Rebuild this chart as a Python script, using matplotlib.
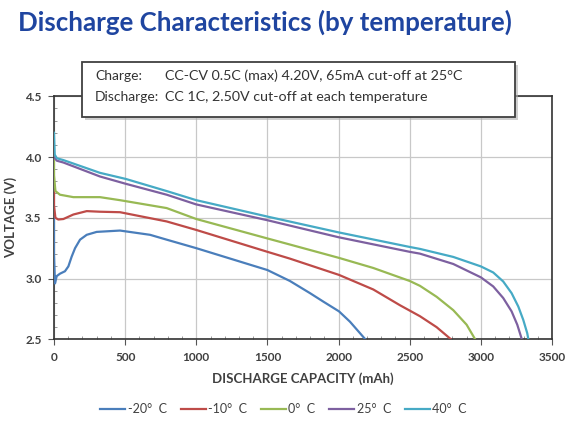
import matplotlib

matplotlib.use("Agg")
import matplotlib.pyplot as plt
from matplotlib.patches import Rectangle
from matplotlib.ticker import MultipleLocator

plt.rcParams["font.family"] = ["Lato", "DejaVu Sans"]

# discharge curves, capacity (mAh) vs voltage (V)
cap_m20 = [0, 0, 7, 19, 42, 77, 101, 124, 148, 183, 230, 300, 464, 675, 792, 1000, 1250, 1500,
           1658, 1799, 1893, 2003, 2080, 2188]
v_m20 = [3.51, 3.20, 2.96, 3.02, 3.04, 3.06, 3.10, 3.18, 3.25, 3.32, 3.36, 3.384, 3.395, 3.36, 3.32,
         3.25, 3.16, 3.07, 2.98, 2.88, 2.81, 2.73, 2.645, 2.50]

cap_m10 = [0, 0, 10, 30, 66, 136, 230, 323, 464, 792, 1000, 1500, 1658, 2003, 2244, 2432, 2572,
           2689, 2790]
v_m10 = [3.72, 3.60, 3.50, 3.486, 3.49, 3.527, 3.555, 3.55, 3.546, 3.47, 3.40, 3.22, 3.164, 3.03,
         2.91, 2.78, 2.69, 2.60, 2.50]

cap_0 = [0, 0, 10, 42, 136, 323, 464, 792, 1000, 1500, 1658, 2003, 2244, 2500, 2572, 2689, 2806,
         2900, 2960]
v_0 = [4.01, 3.85, 3.72, 3.69, 3.67, 3.67, 3.645, 3.58, 3.49, 3.33, 3.28, 3.17, 3.087, 2.98, 2.94,
       2.85, 2.74, 2.62, 2.50]

cap_25 = [0, 20, 66, 323, 504, 792, 1000, 1500, 2000, 2500, 2572, 2806, 3000, 3087, 3157, 3216,
          3256, 3288]
v_25 = [4.00, 3.97, 3.955, 3.84, 3.78, 3.69, 3.61, 3.48, 3.34, 3.22, 3.205, 3.12, 3.01, 2.935, 2.84,
        2.73, 2.62, 2.50]

cap_40 = [0, 5, 20, 66, 323, 504, 792, 1000, 1500, 2000, 2500, 2572, 2806, 3000, 3087, 3157, 3216,
          3263, 3298, 3326, 3334]
v_40 = [4.20, 4.02, 3.99, 3.975, 3.87, 3.82, 3.72, 3.645, 3.51, 3.38, 3.26, 3.244, 3.178, 3.10,
        3.05, 2.976, 2.88, 2.77, 2.66, 2.55, 2.50]

series = [
    ("-20°  C", cap_m20, v_m20, "#4A7EBB"),
    ("-10°  C", cap_m10, v_m10, "#BE4B48"),
    ("0°  C", cap_0, v_0, "#98B954"),
    ("25°  C", cap_25, v_25, "#7D60A0"),
    ("40°  C", cap_40, v_40, "#46AAC5"),
]

x_ticks = [0, 500, 1000, 1500, 2000, 2500, 3000, 3500]
y_ticks = [2.5, 3.0, 3.5, 4.0, 4.5]

W, H = 581, 421
fig = plt.figure(figsize=(W / 100, H / 100), dpi=100)
ax = fig.add_axes([54 / W, 1 - 339.3 / H, (552 - 54) / W, (339.3 - 96.3) / H])

for label, xs, ys, color in series:
    ax.plot(xs, ys, color=color, lw=1.6, label=label, solid_joinstyle="round", zorder=3)

ax.set_xlim(0, 3500)
ax.set_ylim(2.5, 4.5)
ax.set_xticks(x_ticks)
ax.set_yticks(y_ticks)
ax.set_yticklabels([f"{v:.1f}" for v in y_ticks])
ax.xaxis.set_minor_locator(MultipleLocator(100))
ax.yaxis.set_minor_locator(MultipleLocator(0.1))
ax.grid(True, which="major", color="#c8c8c8", lw=0.9, zorder=0)
ax.tick_params(which="major", direction="out", length=4, width=0.8, color="#555555",
               labelsize=8.5, labelcolor="#404040", pad=5)
ax.tick_params(which="minor", direction="in", length=2.5, width=0.6, color="#888888")
for lbl in ax.get_xticklabels() + ax.get_yticklabels():
    lbl.set_fontweight("bold")
for sp in ax.spines.values():
    sp.set_color("#333333")
    sp.set_linewidth(1.2)

ax.set_xlabel("DISCHARGE CAPACITY (mAh)", fontsize=9.5, fontweight="bold", color="#404040", labelpad=7)
ax.set_ylabel("VOLTAGE (V)", fontsize=9.5, fontweight="bold", color="#404040", labelpad=6)

fig.text(18 / W, 1 - 22 / H, "Discharge Characteristics (by temperature)", fontsize=18.6,
         fontweight="bold", color="#1F45A0", va="center", ha="left")

# condition box with drop shadow
bx0, by0, bx1, by1 = 82, 62, 515, 117
fig.patches.append(Rectangle((bx0 / W + 0.005, 1 - by1 / H - 0.008), (bx1 - bx0) / W, (by1 - by0) / H,
                             transform=fig.transFigure, facecolor="#b0b0b0", edgecolor="none",
                             alpha=0.6, zorder=4))
fig.patches.append(Rectangle((bx0 / W, 1 - by1 / H), (bx1 - bx0) / W, (by1 - by0) / H,
                             transform=fig.transFigure, facecolor="white", edgecolor="#404040",
                             lw=1.3, zorder=5))
fig.text(95 / W, 1 - 76 / H, "Charge:", fontsize=10, color="#333333", va="center", zorder=6)
fig.text(165 / W, 1 - 76 / H, "CC-CV 0.5C (max) 4.20V, 65mA cut-off at 25°C", fontsize=10.3,
         color="#333333", va="center", zorder=6)
fig.text(95 / W, 1 - 97 / H, "Discharge:", fontsize=10, color="#333333", va="center", zorder=6)
fig.text(165 / W, 1 - 97 / H, "CC 1C, 2.50V cut-off at each temperature", fontsize=10.3,
         color="#333333", va="center", zorder=6)

handles, labels = ax.get_legend_handles_labels()
fig.legend(handles, labels, loc="center", bbox_to_anchor=(0.488, 1 - 409 / H), ncol=5, frameon=False,
           fontsize=9, labelcolor="#404040", handlelength=2.0, handletextpad=0.2, columnspacing=1.1)

fig.savefig("out.png", dpi=100)
